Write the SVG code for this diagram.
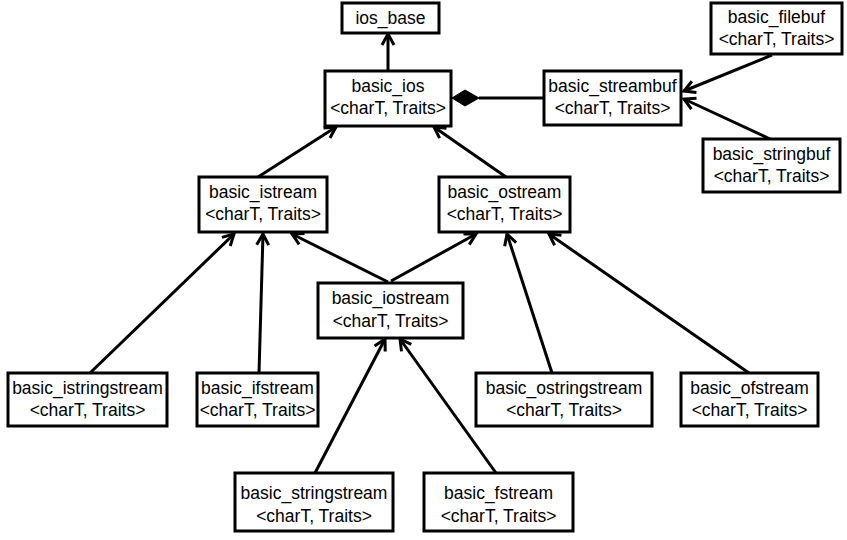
<svg xmlns="http://www.w3.org/2000/svg" width="847" height="540" viewBox="0 0 847 540">
<style>
.box{fill:#fff;stroke:#000;stroke-width:3}
text{font-family:"Liberation Sans",Arial,sans-serif;font-size:17.5px;fill:#000;text-anchor:middle}
.c line{stroke:#000;stroke-width:3;fill:none}
.c .a{marker-end:url(#arr)}
</style>
<defs>
<marker id="arr" viewBox="0 0 16 16" markerWidth="16" markerHeight="16" markerUnits="userSpaceOnUse" refX="13" refY="8" orient="auto">
<path d="M2,2 L13,8 L2,14" fill="none" stroke="#000" stroke-width="3"/>
</marker>
</defs>
<rect width="847" height="540" fill="#fff"/>
<g class="c" id="connectors">
<line class="a" x1="388" y1="71" x2="388" y2="34"/>
<line x1="479" y1="98" x2="544" y2="98"/>
<polygon points="452,98 465,90 479,98 465,106" fill="#000" stroke="#000" stroke-width="1"/>
<line class="a" x1="772" y1="55" x2="684" y2="91"/>
<line class="a" x1="770" y1="139" x2="684" y2="99"/>
<line class="a" x1="258" y1="177" x2="336" y2="127"/>
<line class="a" x1="506" y1="177" x2="434" y2="127"/>
<line class="a" x1="388" y1="282" x2="292" y2="234"/>
<line class="a" x1="391" y1="281" x2="476" y2="234"/>
<line class="a" x1="90" y1="373" x2="234" y2="234"/>
<line class="a" x1="259" y1="373" x2="263" y2="234"/>
<line class="a" x1="552" y1="373" x2="507" y2="234"/>
<line class="a" x1="749" y1="373" x2="549" y2="234"/>
<line class="a" x1="315" y1="473" x2="385" y2="339"/>
<line class="a" x1="496" y1="473" x2="400" y2="339"/>
</g>
<g id="ios_base"><rect class="box" x="342" y="3" width="97" height="30"/><text x="390.5" y="24">ios_base</text></g>
<g id="basic_ios"><rect class="box" x="325" y="71" width="126" height="55"/><text x="388" y="92">basic_ios</text><text x="388" y="114">&lt;charT, Traits&gt;</text></g>
<g id="basic_streambuf"><rect class="box" x="544" y="71" width="137" height="54"/><text x="612.5" y="92">basic_streambuf</text><text x="612.5" y="114">&lt;charT, Traits&gt;</text></g>
<g id="basic_filebuf"><rect class="box" x="711" y="3" width="131" height="51"/><text x="776.5" y="23">basic_filebuf</text><text x="776.5" y="45">&lt;charT, Traits&gt;</text></g>
<g id="basic_stringbuf"><rect class="box" x="703" y="139" width="137" height="53"/><text x="771.5" y="160">basic_stringbuf</text><text x="771.5" y="182">&lt;charT, Traits&gt;</text></g>
<g id="basic_istream"><rect class="box" x="199" y="177" width="128" height="55"/><text x="263" y="198">basic_istream</text><text x="263" y="220">&lt;charT, Traits&gt;</text></g>
<g id="basic_ostream"><rect class="box" x="439" y="177" width="131" height="55"/><text x="504.5" y="198">basic_ostream</text><text x="504.5" y="220">&lt;charT, Traits&gt;</text></g>
<g id="basic_iostream"><rect class="box" x="318" y="283" width="145" height="55"/><text x="390.5" y="304">basic_iostream</text><text x="390.5" y="327">&lt;charT, Traits&gt;</text></g>
<g id="basic_istringstream"><rect class="box" x="8" y="373" width="159" height="53"/><text x="87.5" y="394">basic_istringstream</text><text x="87.5" y="416">&lt;charT, Traits&gt;</text></g>
<g id="basic_ifstream"><rect class="box" x="197" y="373" width="121" height="53"/><text x="257.5" y="394">basic_ifstream</text><text x="257.5" y="416">&lt;charT, Traits&gt;</text></g>
<g id="basic_ostringstream"><rect class="box" x="476" y="373" width="176" height="53"/><text x="564" y="394">basic_ostringstream</text><text x="564" y="416">&lt;charT, Traits&gt;</text></g>
<g id="basic_ofstream"><rect class="box" x="681" y="373" width="137" height="53"/><text x="749.5" y="394">basic_ofstream</text><text x="749.5" y="416">&lt;charT, Traits&gt;</text></g>
<g id="basic_stringstream"><rect class="box" x="235" y="473" width="158" height="58"/><text x="314" y="499">basic_stringstream</text><text x="314" y="522">&lt;charT, Traits&gt;</text></g>
<g id="basic_fstream"><rect class="box" x="424" y="473" width="149" height="58"/><text x="498.5" y="499">basic_fstream</text><text x="498.5" y="522">&lt;charT, Traits&gt;</text></g>
</svg>
